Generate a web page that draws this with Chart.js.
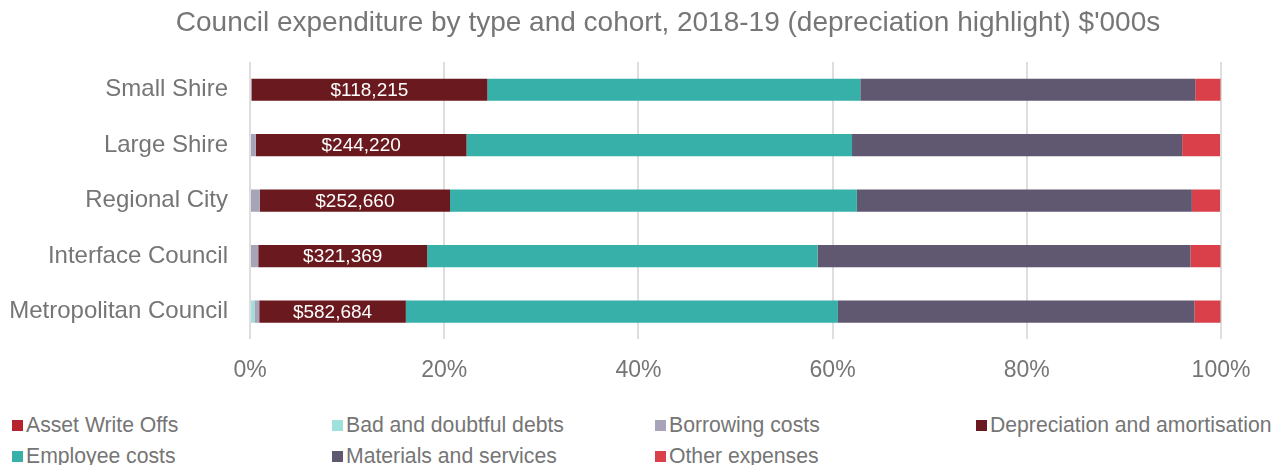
<!DOCTYPE html>
<html>
<head>
<meta charset="utf-8">
<script src="https://cdn.jsdelivr.net/npm/chart.js@4/dist/chart.umd.min.js"></script>
<style>
  body { margin: 0; background: #fff; font-family: "Liberation Sans", Arial, sans-serif; overflow: hidden; }
  #title { position: absolute; left: 68px; top: 5px; width: 1200px; text-align: center;
           font-size: 28px; line-height: 34px; color: #767676; white-space: nowrap; }
  #wrap { position: relative; width: 1283px; height: 403px; }
  #legend { position: absolute; left: 12px; top: 413px; width: 1271px; display: grid;
            grid-template-columns: 320px 323px 321px 300px; row-gap: 7px; }
  .item { display: flex; align-items: center; font-size: 21.2px; line-height: 24px; color: #757575; white-space: nowrap; }
  .sw { width: 11px; height: 11px; margin-right: 3px; }
</style>
</head>
<body>
<div id="wrap"><canvas id="chart" width="1283" height="403"></canvas></div>
<div id="title">Council expenditure by type and cohort, 2018-19 (depreciation highlight) $'000s</div>
<div id="legend"></div>
<script>
// categories and series (share of total expenditure, %)
const cohorts = ['Small Shire', 'Large Shire', 'Regional City', 'Interface Council', 'Metropolitan Council'];
const assetWriteOffs = [0, 0, 0, 0, 0];
const badDebts = [0, 0, 0, 0, 0.45];
const borrowing = [0.15, 0.6, 1.0, 0.85, 0.5];
const depreciation = [24.3, 21.7, 19.6, 17.4, 15.1];
const employee = [38.4, 39.7, 41.9, 40.2, 44.5];
const materials = [34.5, 34.0, 34.5, 38.4, 36.7];
const otherExp = [2.6, 3.9, 2.9, 3.1, 2.7];
// depreciation in $'000s
const depreciationLabels = ['$118,215', '$244,220', '$252,660', '$321,369', '$582,684'];
const xTicks = [0, 20, 40, 60, 80, 100];

const series = [
    { label: 'Asset Write Offs', data: assetWriteOffs, color: '#b5232f' },
    { label: 'Bad and doubtful debts', data: badDebts, color: '#9ee0dc' },
    { label: 'Borrowing costs', data: borrowing, color: '#a7a3b8' },
    { label: 'Depreciation and amortisation', data: depreciation, color: '#6a1a1e' },
    { label: 'Employee costs', data: employee, color: '#36b0a9' },
    { label: 'Materials and services', data: materials, color: '#5f5870' },
    { label: 'Other expenses', data: otherExp, color: '#d9404a' }
];

const FONT = '"Liberation Sans", Arial, sans-serif';

// label the depreciation segment with its dollar value
const depLabelPlugin = {
    id: 'depLabels',
    afterDatasetsDraw(chart) {
        const meta = chart.getDatasetMeta(3);
        const ctx = chart.ctx;
        ctx.save();
        ctx.fillStyle = '#ffffff';
        ctx.font = '19px ' + FONT;
        ctx.textAlign = 'center';
        ctx.textBaseline = 'middle';
        meta.data.forEach((bar, i) => {
            ctx.fillText(depreciationLabels[i], (bar.x + bar.base) / 2, bar.y + 1);
        });
        ctx.restore();
    }
};

new Chart(document.getElementById('chart'), {
    type: 'bar',
    data: {
        labels: cohorts,
        datasets: series.map(s => ({
            label: s.label,
            data: s.data,
            backgroundColor: s.color,
            borderWidth: 0,
            barPercentage: 0.4,
            categoryPercentage: 1
        }))
    },
    options: {
        indexAxis: 'y',
        responsive: false,
        animation: false,
        layout: { padding: { left: 10, right: 62, top: 62, bottom: 2 } },
        plugins: {
            legend: { display: false },
            tooltip: { enabled: false },
            title: { display: false }
        },
        scales: {
            x: {
                stacked: true,
                min: 0,
                max: 100,
                afterBuildTicks: axis => { axis.ticks = xTicks.map(v => ({ value: v })); },
                ticks: {
                    callback: v => v + '%',
                    color: '#757575',
                    maxRotation: 0,
                    font: { size: 23, family: FONT },
                    padding: 17
                },
                grid: { color: '#dedede', lineWidth: 2, drawTicks: false },
                border: { display: false }
            },
            y: {
                stacked: true,
                afterFit: scale => { scale.width = 240; },
                ticks: {
                    color: '#757575',
                    font: { size: 24, family: FONT },
                    padding: 22
                },
                grid: { display: false, drawTicks: false },
                border: { display: false }
            }
        }
    },
    plugins: [depLabelPlugin]
});

// legend laid out in columns like the original
const legend = document.getElementById('legend');
series.forEach(s => {
    const item = document.createElement('div');
    item.className = 'item';
    item.innerHTML = `<span class="sw" style="background:${s.color}"></span>${s.label}`;
    legend.appendChild(item);
});
</script>
</body>
</html>
